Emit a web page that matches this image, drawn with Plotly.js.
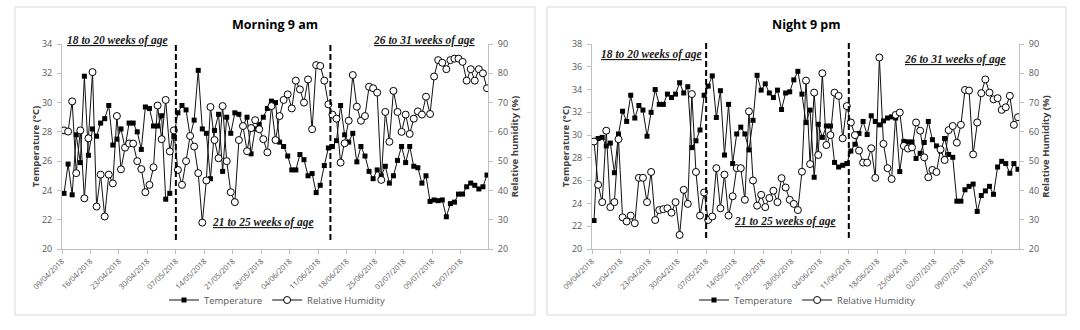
<!DOCTYPE html>
<html>
<head>
<meta charset="utf-8">
<script src="https://cdn.plot.ly/plotly-3.0.1.min.js"></script>
<style>html,body{margin:0;padding:0;background:#fff;}#chart{width:1080px;height:330px;}</style>
</head>
<body>
<div id="chart"></div>
<script>
// Daily dates, 09/04/2018 .. 22/07/2018
const dates = [
 '2018-04-09','2018-04-10','2018-04-11','2018-04-12','2018-04-13','2018-04-14','2018-04-15','2018-04-16','2018-04-17','2018-04-18','2018-04-19','2018-04-20','2018-04-21','2018-04-22','2018-04-23','2018-04-24','2018-04-25','2018-04-26','2018-04-27','2018-04-28','2018-04-29','2018-04-30',
 '2018-05-01','2018-05-02','2018-05-03','2018-05-04','2018-05-05','2018-05-06','2018-05-07','2018-05-08','2018-05-09','2018-05-10','2018-05-11','2018-05-12','2018-05-13','2018-05-14','2018-05-15','2018-05-16','2018-05-17','2018-05-18','2018-05-19','2018-05-20','2018-05-21','2018-05-22','2018-05-23','2018-05-24','2018-05-25','2018-05-26','2018-05-27','2018-05-28','2018-05-29','2018-05-30','2018-05-31',
 '2018-06-01','2018-06-02','2018-06-03','2018-06-04','2018-06-05','2018-06-06','2018-06-07','2018-06-08','2018-06-09','2018-06-10','2018-06-11','2018-06-12','2018-06-13','2018-06-14','2018-06-15','2018-06-16','2018-06-17','2018-06-18','2018-06-19','2018-06-20','2018-06-21','2018-06-22','2018-06-23','2018-06-24','2018-06-25','2018-06-26','2018-06-27','2018-06-28','2018-06-29','2018-06-30',
 '2018-07-01','2018-07-02','2018-07-03','2018-07-04','2018-07-05','2018-07-06','2018-07-07','2018-07-08','2018-07-09','2018-07-10','2018-07-11','2018-07-12','2018-07-13','2018-07-14','2018-07-15','2018-07-16','2018-07-17','2018-07-18','2018-07-19','2018-07-20','2018-07-21','2018-07-22'
];

// Morning 9 am
const morningTemp = [
 23.8,25.8,23.7,27.8,25.9,31.8,26.4,28.2,27.7,28.6,28.9,29.8,27.1,27.5,28.2,26.9,28.6,28.6,28.0,26.8,29.7,29.6,
 28.4,28.4,29.1,23.4,23.8,27.7,29.3,29.8,29.5,27.7,28.8,32.2,28.2,27.9,24.8,28.1,29.2,25.3,29.0,27.9,29.3,29.2,28.4,29.0,26.5,28.2,28.5,29.0,29.6,30.1,30.0,
 27.3,27.0,26.35,25.4,25.4,26.45,26.1,25.0,25.15,23.85,24.35,25.7,26.9,27.0,27.4,29.8,27.8,27.3,27.9,25.95,27.0,26.35,25.3,24.8,25.4,25.0,25.65,24.5,25.0,26.05,
 27.0,25.9,27.0,25.65,25.55,24.5,25.0,23.25,23.35,23.3,23.35,22.2,23.1,23.2,23.75,23.75,24.25,24.5,24.35,24.1,24.25,25.05
];
const morningRH = [
 60.5,60.1,70.4,45.9,60.5,37.3,57.8,80.4,34.5,45.4,31.1,45.4,42.4,65.4,47.2,54.6,56.0,56.0,50.0,47.3,39.4,41.9,
 47.9,69.0,57.5,70.9,53.3,60.5,47.0,41.9,50.0,58.6,55.0,45.9,29.0,43.4,68.5,57.2,51.0,68.8,50.0,39.4,36.0,57.2,62.0,53.4,61.3,64.0,60.9,57.5,53.0,68.8,57.2,
 65.4,70.9,72.8,68.0,77.5,74.5,70.0,77.9,60.9,82.8,82.5,77.5,69.4,65.9,64.5,49.5,56.1,63.8,79.4,68.6,63.8,65.4,75.4,74.9,73.4,43.6,66.8,56.6,74.0,66.8,
 60.0,65.9,59.3,64.5,67.0,65.9,72.0,66.1,78.9,84.5,83.6,81.4,84.5,85.0,85.0,83.9,77.5,81.4,77.5,81.4,80.0,74.9
];

// Night 9 pm
const nightTemp = [
 22.5,29.7,29.8,29.05,29.3,26.7,30.1,32.1,31.2,33.5,31.5,32.6,32.2,29.9,32.0,34.0,32.7,32.7,33.6,33.3,33.6,34.6,
 33.7,34.25,28.9,29.5,30.45,33.5,34.3,35.2,31.55,33.9,28.25,32.7,27.5,30.1,30.7,30.1,28.7,31.3,35.25,33.95,34.5,33.7,33.3,33.95,32.25,33.7,33.8,34.85,35.6,33.6,31.1,
 32.2,26.3,30.95,29.8,30.8,30.8,27.6,27.2,27.35,27.5,28.6,29.2,30.15,31.2,30.05,31.7,31.2,30.9,31.25,31.5,31.6,31.5,26.8,29.45,29.4,29.4,27.95,28.4,29.35,31.2,
 29.6,29.05,28.6,29.7,28.3,28.05,24.2,24.2,25.2,25.5,25.7,23.3,24.7,25.1,25.5,24.8,27.2,27.7,27.5,26.65,27.5,27.0
];
const nightRH = [
 56.7,41.9,36.0,60.4,34.3,36.0,57.5,30.8,29.4,31.4,28.8,44.3,44.3,36.0,46.3,29.9,33.3,33.6,33.9,32.4,36.0,24.8,
 40.2,35.4,72.9,46.3,31.4,39.3,29.9,31.1,47.6,33.9,45.4,31.4,38.0,47.6,47.6,36.8,67.0,43.4,34.8,38.5,34.3,37.4,39.9,36.0,44.2,41.0,36.8,35.4,33.3,46.4,77.5,
 49.0,73.4,52.1,80.0,55.5,58.9,73.4,72.3,57.8,68.8,63.2,58.9,53.6,49.5,49.5,54.4,44.3,85.4,55.9,47.6,43.9,65.8,66.6,55.2,54.3,54.7,63.2,60.4,51.3,44.5,
 47.0,46.3,54.0,50.4,60.6,62.0,56.3,62.4,74.3,74.1,52.3,63.2,73.2,77.9,73.4,71.1,71.5,67.5,68.4,72.3,62.4,65.0
];

const panelTitles = ['Morning 9 am', 'Night 9 pm'];
const seriesNames = ['Temperature', 'Relative Humidity'];
const rhTitles = ['Relative humidity (%)', 'Relative Humidity (%)'];
const tempTitle = 'Temperature (°C)';
const periodLabels = ['18 to 20 weeks of age', '21 to 25 weeks of age', '26 to 31 weeks of age'];
const dividersMorning = ['2018-05-07', '2018-06-14'];
const dividersNight = ['2018-05-07', '2018-06-11'];

const W = 1080, H = 330;
const px = x => x / W;
const py = y => 1 - y / H;
const xs = dates.map(d => d + ' 12:00');

const lineCol = '#111111';
const axisCol = '#bfbfbf';
const tickCol = '#595959';
const baseFont = 'Open Sans, Lato, sans-serif';

function tempTrace(y, xa, ya, leg) {
  return {x: xs, y: y, xaxis: xa, yaxis: ya, name: seriesNames[0], legend: leg,
    type: 'scatter', mode: 'lines+markers',
    line: {color: lineCol, width: 1},
    marker: {symbol: 'square', size: 5, color: '#000', line: {width: 0}}};
}
function rhTrace(y, xa, ya, leg) {
  return {x: xs, y: y, xaxis: xa, yaxis: ya, name: seriesNames[1], legend: leg,
    type: 'scatter', mode: 'lines+markers',
    line: {color: lineCol, width: 1},
    marker: {symbol: 'circle', size: 7, color: '#fff', line: {color: '#000', width: 1}}};
}

const data = [
  tempTrace(morningTemp, 'x', 'y', 'legend'),
  rhTrace(morningRH, 'x', 'y2', 'legend'),
  tempTrace(nightTemp, 'x2', 'y3', 'legend2'),
  rhTrace(nightRH, 'x2', 'y4', 'legend2')
];

const xCommon = {
  type: 'date', range: ['2018-04-09', '2018-07-22 18:00'],
  tickmode: 'linear', tick0: '2018-04-09', dtick: 7 * 86400000,
  tickformat: '%d/%m/%Y', tickangle: -45,
  tickfont: {family: baseFont, size: 7.5, color: tickCol},
  showline: true, linecolor: axisCol, linewidth: 1,
  ticks: 'outside', ticklen: 4, tickcolor: axisCol,
  showgrid: false, zeroline: false, fixedrange: true
};
const yCommon = {
  showline: true, linecolor: axisCol, linewidth: 1,
  ticks: 'outside', ticklen: 4, tickcolor: axisCol, ticklabelstandoff: 3,
  tickfont: {family: baseFont, size: 9, color: tickCol},
  showgrid: false, zeroline: false, fixedrange: true
};
const yDom = [py(249), py(44)];
const titleFont = {family: baseFont, size: 9.5, color: '#404040', weight: 'bold'};

function periodAnn(text, x, y) {
  return {text: '<b><i><u>' + text + '</u></i></b>', xref: 'paper', yref: 'paper',
    x: px(x), y: py(y), xanchor: 'left', yanchor: 'middle', showarrow: false,
    font: {family: 'Liberation Serif, serif', size: 11.5, color: '#1a1a1a'}};
}

const layout = {
  width: W, height: H,
  margin: {l: 0, r: 0, t: 0, b: 0},
  paper_bgcolor: '#fff', plot_bgcolor: 'rgba(0,0,0,0)',
  font: {family: baseFont, color: tickCol},
  xaxis: Object.assign({}, xCommon, {domain: [px(62), px(488)], anchor: 'y'}),
  yaxis: Object.assign({}, yCommon, {domain: yDom, anchor: 'x', range: [20, 34], dtick: 2,
    title: {text: tempTitle, font: titleFont, standoff: 0}}),
  yaxis2: Object.assign({}, yCommon, {overlaying: 'y', side: 'right', anchor: 'x', range: [20, 90], dtick: 10,
    title: {text: rhTitles[0], font: titleFont, standoff: 0}}),
  xaxis2: Object.assign({}, xCommon, {domain: [px(592), px(1019)], anchor: 'y3'}),
  yaxis3: Object.assign({}, yCommon, {domain: yDom, anchor: 'x2', range: [20, 38], dtick: 2,
    title: {text: tempTitle, font: titleFont, standoff: 0}}),
  yaxis4: Object.assign({}, yCommon, {overlaying: 'y3', side: 'right', anchor: 'x2', range: [20, 90], dtick: 10,
    title: {text: rhTitles[1], font: titleFont, standoff: 0}}),
  legend: {orientation: 'h', x: px(277), xanchor: 'center', y: py(300), yanchor: 'middle',
    font: {family: baseFont, size: 9.5, color: tickCol}, bgcolor: 'rgba(0,0,0,0)', itemwidth: 30, traceorder: 'normal'},
  legend2: {orientation: 'h', x: px(807), xanchor: 'center', y: py(300), yanchor: 'middle',
    font: {family: baseFont, size: 9.5, color: tickCol}, bgcolor: 'rgba(0,0,0,0)', itemwidth: 30, traceorder: 'normal'},
  showlegend: true,
  shapes: [
    {type: 'rect', xref: 'paper', yref: 'paper', x0: px(15), x1: px(535), y0: py(315), y1: py(7), line: {color: '#d9d9d9', width: 1}},
    {type: 'rect', xref: 'paper', yref: 'paper', x0: px(547), x1: px(1066), y0: py(315), y1: py(7), line: {color: '#d9d9d9', width: 1}},
    ...dividersMorning.map(d => ({type: 'line', xref: 'x', yref: 'paper', x0: d, x1: d, y0: py(240), y1: py(44),
      line: {color: '#000', width: 2, dash: '6px,3px'}})),
    ...dividersNight.map(d => ({type: 'line', xref: 'x2', yref: 'paper', x0: d, x1: d, y0: py(238), y1: py(43),
      line: {color: '#000', width: 2, dash: '6px,3px'}}))
  ],
  annotations: [
    {text: '<b>' + panelTitles[0] + '</b>', xref: 'paper', yref: 'paper', x: px(275), y: py(24),
     xanchor: 'center', yanchor: 'middle', showarrow: false, font: {family: baseFont, size: 12.5, color: '#000'}},
    {text: '<b>' + panelTitles[1] + '</b>', xref: 'paper', yref: 'paper', x: px(806), y: py(24),
     xanchor: 'center', yanchor: 'middle', showarrow: false, font: {family: baseFont, size: 12.5, color: '#000'}},
    periodAnn(periodLabels[0], 65, 40),
    periodAnn(periodLabels[1], 210, 222),
    periodAnn(periodLabels[2], 371, 40),
    periodAnn(periodLabels[0], 599, 55),
    periodAnn(periodLabels[1], 732, 221),
    periodAnn(periodLabels[2], 902, 59)
  ]
};

Plotly.newPlot('chart', data, layout, {displayModeBar: false, staticPlot: true});
</script>
</body>
</html>
